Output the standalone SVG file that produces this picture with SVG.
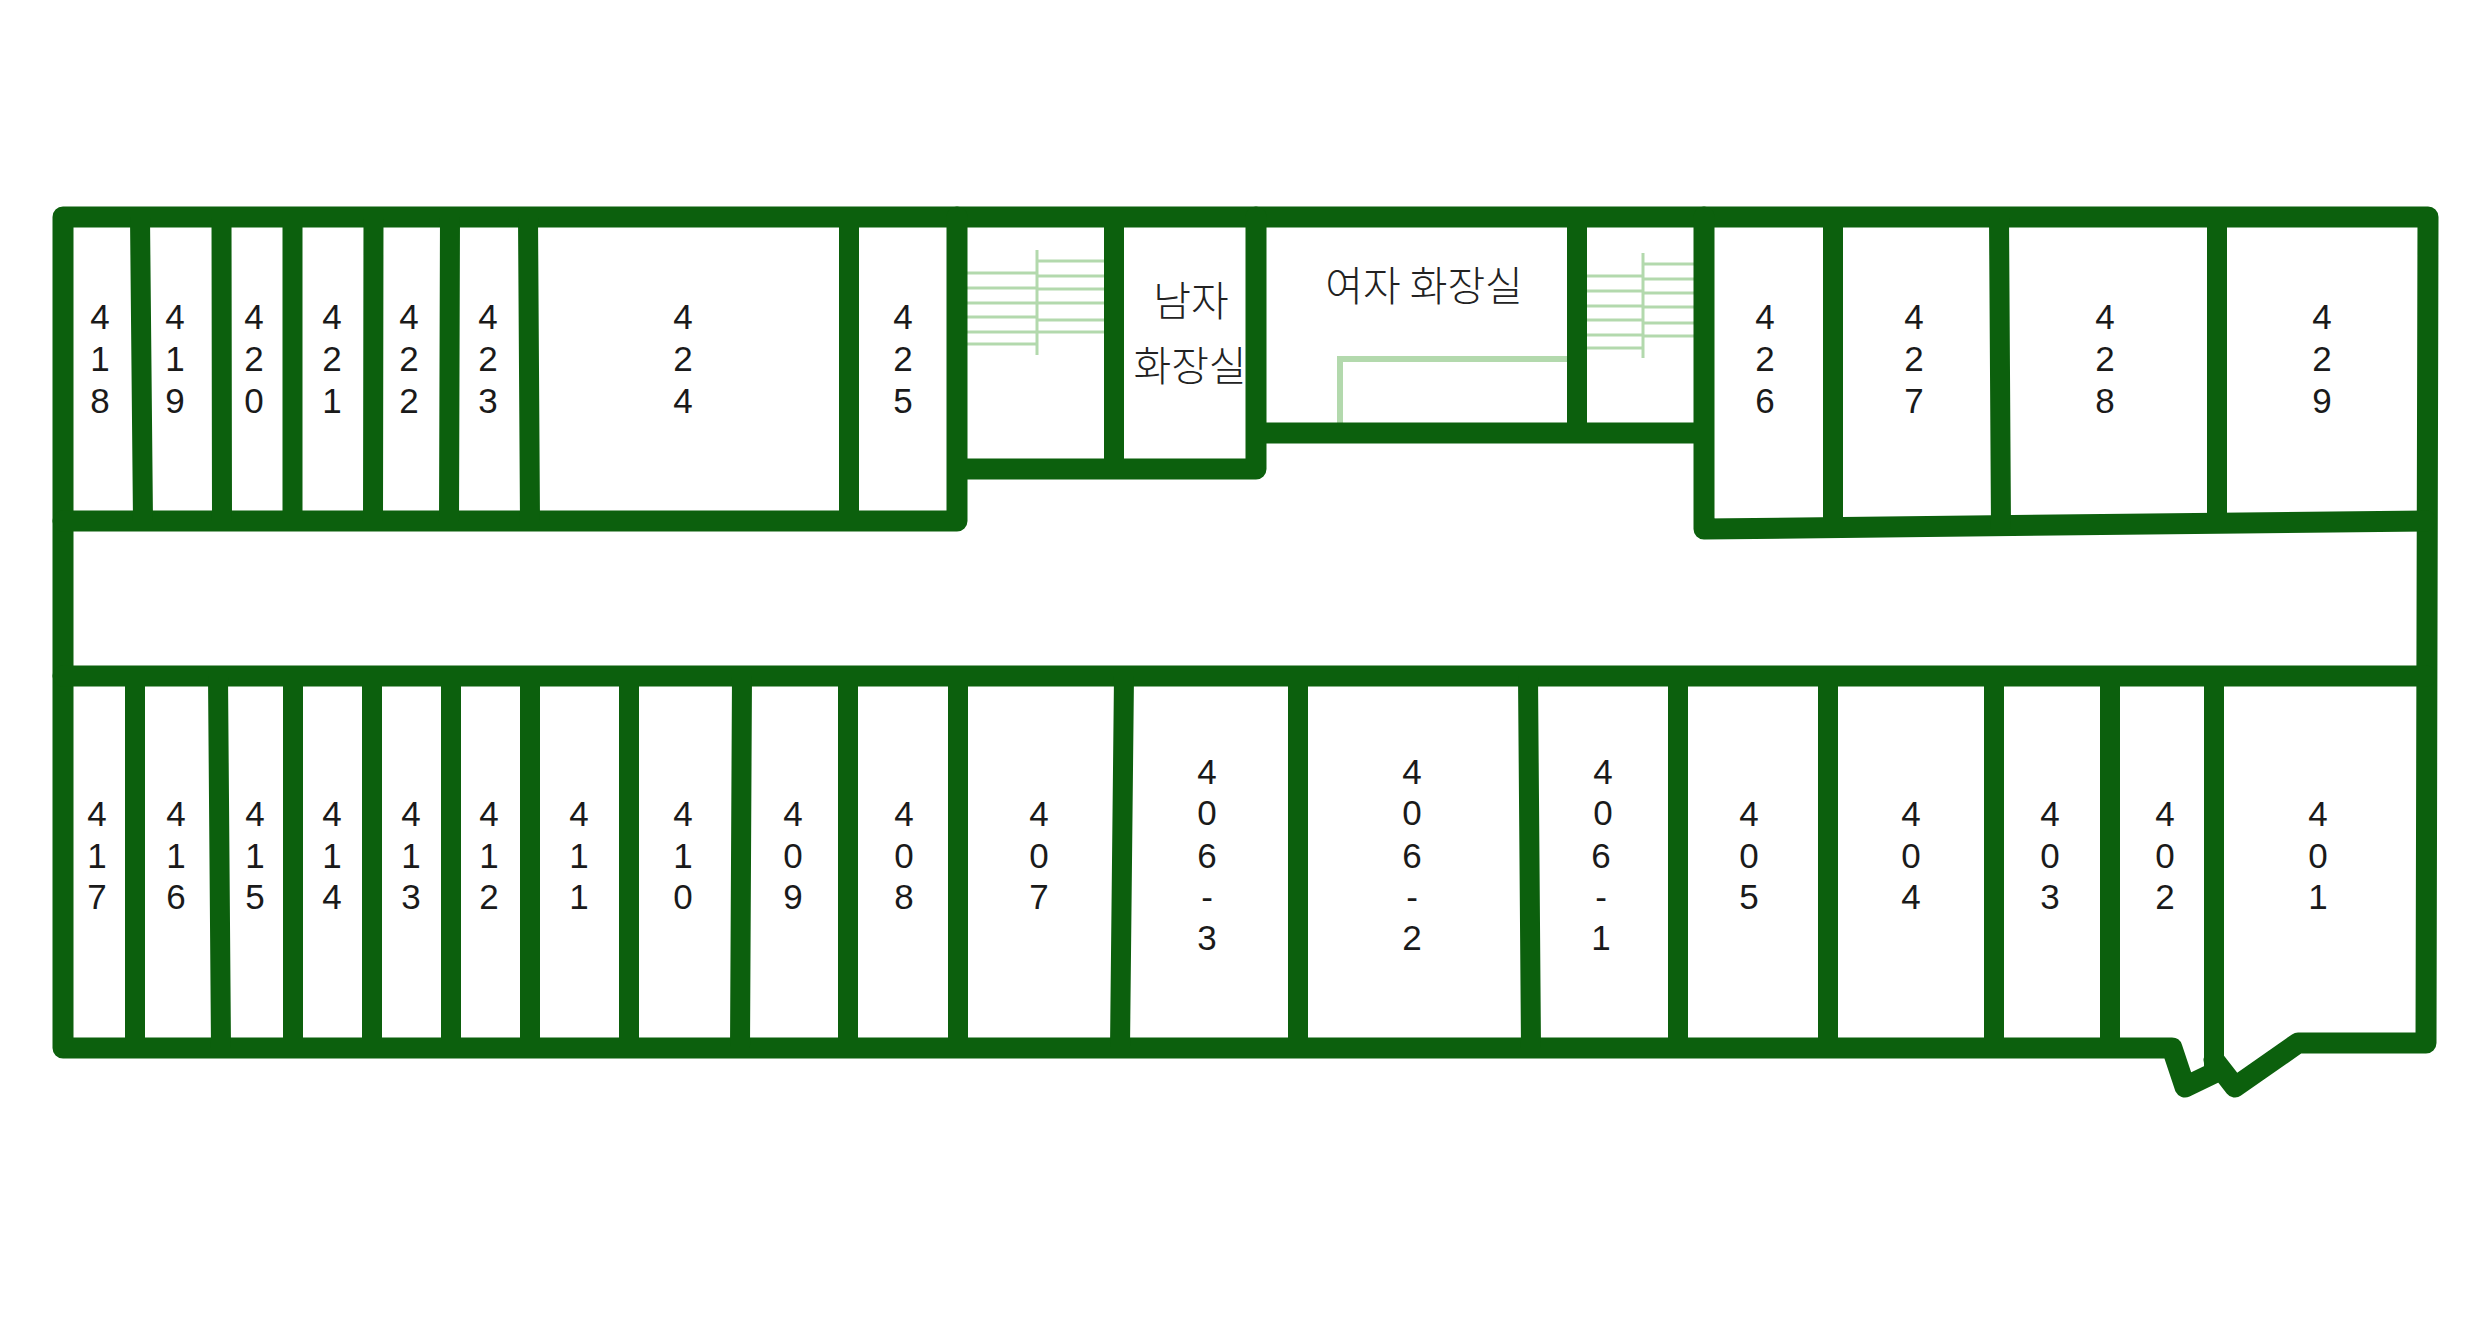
<svg xmlns="http://www.w3.org/2000/svg" width="2480" height="1332" viewBox="0 0 2480 1332">
<style>
.w{fill:none;stroke:#0c600d;stroke-width:21;stroke-linejoin:round;stroke-linecap:round}
.i{fill:none;stroke:#0c600d;stroke-width:20;stroke-linecap:butt}
.s{fill:none;stroke:#b3d9ad;stroke-width:3}
.n{font-family:"Liberation Sans",Arial,sans-serif;font-size:35px;fill:#1a1a1a;text-anchor:middle}
.k{font-family:"Noto Sans CJK KR","Liberation Sans",sans-serif;font-size:41px;font-weight:300;fill:#222;text-anchor:middle}
</style>
<rect width="2480" height="1332" fill="#fff"/>
<g id="stairs">
<path class="s" d="M1037 250V355M967 273H1037M967 288H1037M967 303H1037M967 317H1037M967 332H1037M967 344H1037M1037 261H1104M1037 276H1104M1037 289H1104M1037 303H1104M1037 320H1104M1037 332H1104"/>
<path class="s" d="M1643 253V358M1587 276H1643M1587 291H1643M1587 306H1643M1587 320H1643M1587 335H1643M1587 348H1643M1643 264H1694M1643 279H1694M1643 293H1694M1643 307H1694M1643 323H1694M1643 336H1694"/>
<path class="s" style="stroke-width:6" d="M1340 425V359H1570"/>
</g>
<g id="walls">
<path class="w" d="M2214 1073L2185 1087L2172 1048H63V217H2428L2426 1043H2298L2235 1087L2214 1060"/>
<path class="w" d="M63 521H957V217M957 469H1256V217M1256 433H1704V217M1704 433V529L2426 521M63 676H2426"/>
<path class="i" d="M140 217L143 521M221.500 217L222 521M292.500 217V521M373.500 217L373 521M450 217L449 521M528 217L530 521M849 217V521M1114 217V469M1577 217V433M1833 217V529M1999 217L2001 529M2217 217V521"/>
<path class="i" d="M135 676V1048M218 676L221 1048M293 676V1048M372 676V1048M451 676V1048M530 676V1048M629 676V1048M742 676L740 1048M848 676V1048M958 676V1048M1124 676L1120 1048M1298 676V1048M1528 676L1531 1048M1678 676V1048M1828 676V1048M1994 676V1048M2110 676V1048M2214 676V1075"/>
</g>
<g id="labels-top">
<text id="r418" class="n"><tspan x="100" y="329">4</tspan><tspan x="100" y="371">1</tspan><tspan x="100" y="413">8</tspan></text>
<text id="r419" class="n"><tspan x="175" y="329">4</tspan><tspan x="175" y="371">1</tspan><tspan x="175" y="413">9</tspan></text>
<text id="r420" class="n"><tspan x="254" y="329">4</tspan><tspan x="254" y="371">2</tspan><tspan x="254" y="413">0</tspan></text>
<text id="r421" class="n"><tspan x="332" y="329">4</tspan><tspan x="332" y="371">2</tspan><tspan x="332" y="413">1</tspan></text>
<text id="r422" class="n"><tspan x="409" y="329">4</tspan><tspan x="409" y="371">2</tspan><tspan x="409" y="413">2</tspan></text>
<text id="r423" class="n"><tspan x="488" y="329">4</tspan><tspan x="488" y="371">2</tspan><tspan x="488" y="413">3</tspan></text>
<text id="r424" class="n"><tspan x="683" y="329">4</tspan><tspan x="683" y="371">2</tspan><tspan x="683" y="413">4</tspan></text>
<text id="r425" class="n"><tspan x="903" y="329">4</tspan><tspan x="903" y="371">2</tspan><tspan x="903" y="413">5</tspan></text>
<text id="r426" class="n"><tspan x="1765" y="329">4</tspan><tspan x="1765" y="371">2</tspan><tspan x="1765" y="413">6</tspan></text>
<text id="r427" class="n"><tspan x="1914" y="329">4</tspan><tspan x="1914" y="371">2</tspan><tspan x="1914" y="413">7</tspan></text>
<text id="r428" class="n"><tspan x="2105" y="329">4</tspan><tspan x="2105" y="371">2</tspan><tspan x="2105" y="413">8</tspan></text>
<text id="r429" class="n"><tspan x="2322" y="329">4</tspan><tspan x="2322" y="371">2</tspan><tspan x="2322" y="413">9</tspan></text>
<text id="men" class="k"><tspan x="1191" y="316">남자</tspan><tspan x="1190" y="381">화장실</tspan></text>
<text id="women" class="k" x="1424" y="301">여자 화장실</text>
</g>
<g id="labels-bottom">
<text id="r417" class="n"><tspan x="97" y="826">4</tspan><tspan x="97" y="868">1</tspan><tspan x="97" y="909">7</tspan></text>
<text id="r416" class="n"><tspan x="176" y="826">4</tspan><tspan x="176" y="868">1</tspan><tspan x="176" y="909">6</tspan></text>
<text id="r415" class="n"><tspan x="255" y="826">4</tspan><tspan x="255" y="868">1</tspan><tspan x="255" y="909">5</tspan></text>
<text id="r414" class="n"><tspan x="332" y="826">4</tspan><tspan x="332" y="868">1</tspan><tspan x="332" y="909">4</tspan></text>
<text id="r413" class="n"><tspan x="411" y="826">4</tspan><tspan x="411" y="868">1</tspan><tspan x="411" y="909">3</tspan></text>
<text id="r412" class="n"><tspan x="489" y="826">4</tspan><tspan x="489" y="868">1</tspan><tspan x="489" y="909">2</tspan></text>
<text id="r411" class="n"><tspan x="579" y="826">4</tspan><tspan x="579" y="868">1</tspan><tspan x="579" y="909">1</tspan></text>
<text id="r410" class="n"><tspan x="683" y="826">4</tspan><tspan x="683" y="868">1</tspan><tspan x="683" y="909">0</tspan></text>
<text id="r409" class="n"><tspan x="793" y="826">4</tspan><tspan x="793" y="868">0</tspan><tspan x="793" y="909">9</tspan></text>
<text id="r408" class="n"><tspan x="904" y="826">4</tspan><tspan x="904" y="868">0</tspan><tspan x="904" y="909">8</tspan></text>
<text id="r407" class="n"><tspan x="1039" y="826">4</tspan><tspan x="1039" y="868">0</tspan><tspan x="1039" y="909">7</tspan></text>
<text id="r406-3" class="n"><tspan x="1207" y="784">4</tspan><tspan x="1207" y="825">0</tspan><tspan x="1207" y="868">6</tspan><tspan x="1207" y="909">-</tspan><tspan x="1207" y="950">3</tspan></text>
<text id="r406-2" class="n"><tspan x="1412" y="784">4</tspan><tspan x="1412" y="825">0</tspan><tspan x="1412" y="868">6</tspan><tspan x="1412" y="909">-</tspan><tspan x="1412" y="950">2</tspan></text>
<text id="r406-1" class="n"><tspan x="1603" y="784">4</tspan><tspan x="1603" y="825">0</tspan><tspan x="1601" y="868">6</tspan><tspan x="1601" y="909">-</tspan><tspan x="1601" y="950">1</tspan></text>
<text id="r405" class="n"><tspan x="1749" y="826">4</tspan><tspan x="1749" y="868">0</tspan><tspan x="1749" y="909">5</tspan></text>
<text id="r404" class="n"><tspan x="1911" y="826">4</tspan><tspan x="1911" y="868">0</tspan><tspan x="1911" y="909">4</tspan></text>
<text id="r403" class="n"><tspan x="2050" y="826">4</tspan><tspan x="2050" y="868">0</tspan><tspan x="2050" y="909">3</tspan></text>
<text id="r402" class="n"><tspan x="2165" y="826">4</tspan><tspan x="2165" y="868">0</tspan><tspan x="2165" y="909">2</tspan></text>
<text id="r401" class="n"><tspan x="2318" y="826">4</tspan><tspan x="2318" y="868">0</tspan><tspan x="2318" y="909">1</tspan></text>
</g>
</svg>
